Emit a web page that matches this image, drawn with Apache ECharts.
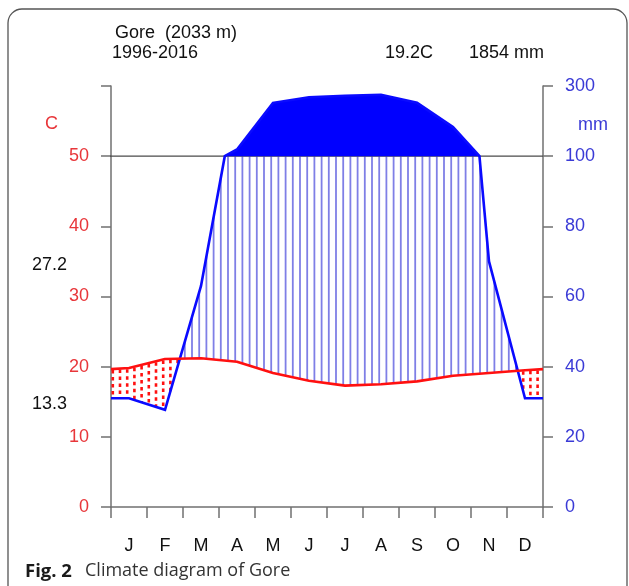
<!DOCTYPE html>
<html><head><meta charset="utf-8">
<script src="https://cdn.jsdelivr.net/npm/echarts@6/dist/echarts.min.js"></script>
<style>html,body{margin:0;padding:0;background:#fff}#c{width:629px;height:586px}</style>
</head><body><div id="c"></div>
<script>
// ---- data ----
const months = ['J','F','M','A','M','J','J','A','S','O','N','D'];
const temperature = [19.8, 21.1, 21.2, 20.7, 19.1, 18.0, 17.3, 17.5, 17.9, 18.7, 19.1, 19.5];
const precipitation = [31, 27.7, 63, 119, 252, 268, 272, 275, 252, 183, 70, 31];
const rightTickLabels = {0:'0',10:'20',20:'40',30:'60',40:'80',50:'100',60:'300'};
const station = 'Gore  (2033 m)';
const period = '1996-2016';
const meanTemp = '19.2C';
const annualPrecip = '1854 mm';
const absMax = '27.2';
const absMin = '13.3';
const caption = 'Climate diagram of Gore';
const captionLabel = 'Fig. 2';

// ---- helpers ----
const FONT = "'Liberation Sans', Arial, sans-serif";
const RED = '#e8363a', BLUE = '#3a3ad6';
function scaleP(p){ return p <= 100 ? p / 2 : 50 + (p - 100) / 20; }
const xs = [0].concat(months.map((m, i) => i + 0.5)).concat([12]);
const tEdge = (temperature[0] + temperature[11]) / 2;
const pEdge = (precipitation[0] + precipitation[11]) / 2;
const tPts = [tEdge].concat(temperature, [tEdge]);
const pPts = [pEdge].concat(precipitation, [pEdge]);
function interp(arr, x){
  for (let i = 0; i < xs.length - 1; i++) {
    if (x >= xs[i] && x <= xs[i + 1]) {
      const f = (x - xs[i]) / (xs[i + 1] - xs[i]);
      return arr[i] + f * (arr[i + 1] - arr[i]);
    }
  }
  return arr[arr.length - 1];
}

function renderClimate(params, api){
  if (params.dataIndex !== 0) return null;
  const children = [];
  // hatching (humid) and dots (arid)
  for (let k = 0; k < 60; k++) {
    const x = 0.05 + 0.2 * k;
    const t = interp(tPts, x), p = interp(pPts, x);
    if (p / 2 > t) {
      const a = api.coord([x, t]), b = api.coord([x, Math.min(scaleP(p), 50)]);
      children.push({type:'line', shape:{x1:a[0], y1:a[1], x2:b[0], y2:b[1]},
        style:{stroke:'#7f7fe6', lineWidth:1.8}});
    } else if (t > p / 2) {
      const a = api.coord([x, t]), b = api.coord([x, p / 2]);
      children.push({type:'line', shape:{x1:a[0], y1:a[1] + 1, x2:b[0], y2:b[1]},
        style:{stroke:'#ff1010', lineWidth:2.6, lineDash:[3.5, 3.5]}});
    }
  }
  // 50 C / 100 mm line
  const l0 = api.coord([0, 50]), l1 = api.coord([12, 50]);
  children.push({type:'line', shape:{x1:l0[0]-1, y1:l0[1], x2:l1[0], y2:l1[1]},
    style:{stroke:'#4a4a4a', lineWidth:1.3}});
  // precipitation polyline with the scale break at 100 mm
  const line = [];
  for (let i = 0; i < xs.length; i++) {
    line.push([xs[i], pPts[i]]);
    if (i < xs.length - 1) {
      const a = pPts[i], b = pPts[i + 1];
      if ((a - 100) * (b - 100) < 0) {
        const f = (100 - a) / (b - a);
        line.push([xs[i] + f * (xs[i + 1] - xs[i]), 100]);
      }
    }
  }
  const fill = line.map(([x, p]) => api.coord([x, Math.max(scaleP(p), 50)]));
  fill.push(api.coord([12, 50]), api.coord([0, 50]));
  children.push({type:'polygon', shape:{points:fill}, style:{fill:'#0000ff', stroke:null}});
  children.push({type:'polyline', shape:{points:line.map(([x, p]) => api.coord([x, scaleP(p)]))},
    style:{stroke:'#0a0aff', lineWidth:2.6, fill:null}, z2:5});
  return {type:'group', children};
}

const chart = echarts.init(document.getElementById('c'), null, {renderer:'canvas'});
chart.setOption({
  animation:false,
  backgroundColor:'#fff',
  grid:{left:111, right:86, top:86, bottom:79, containLabel:false},
  xAxis:[
    {type:'category', data:months, boundaryGap:true, position:'bottom',
     axisLine:{lineStyle:{color:'#707070', width:1.5}},
     axisTick:{show:true, length:11, alignWithLabel:false, lineStyle:{color:'#707070', width:1.5}},
     axisLabel:{color:'#111', fontSize:18, fontFamily:FONT, margin:30, interval:0},
     splitLine:{show:false}},
    {type:'value', min:0, max:12, show:false}
  ],
  yAxis:[
    {type:'value', min:0, max:60, interval:10, position:'left',
     axisLine:{show:true, lineStyle:{color:'#707070', width:1.5}},
     axisTick:{show:true, length:10, lineStyle:{color:'#707070', width:1.5}},
     axisLabel:{color:RED, fontSize:18, fontFamily:FONT, margin:22,
       formatter:v => v <= 50 ? String(v) : ''},
     splitLine:{show:false}},
    {type:'value', min:0, max:60, interval:10, position:'right',
     axisLine:{show:true, lineStyle:{color:'#707070', width:1.5}},
     axisTick:{show:true, length:10, lineStyle:{color:'#707070', width:1.5}},
     axisLabel:{color:BLUE, fontSize:18, fontFamily:FONT, margin:22,
       formatter:v => rightTickLabels[v] !== undefined ? rightTickLabels[v] : ''},
     splitLine:{show:false}}
  ],
  series:[
    {type:'custom', xAxisIndex:1, yAxisIndex:0, renderItem:renderClimate,
     data:precipitation.map((p, i) => [i + 0.5, scaleP(p)]), clip:false, z:2, silent:true},
    {type:'line', xAxisIndex:1, yAxisIndex:0, data:xs.map((x, i) => [x, tPts[i]]),
     symbol:'none', lineStyle:{color:'#ff1010', width:2.6}, z:3, silent:true}
  ],
  graphic:[
    {type:'rect', shape:{x:8, y:9, width:619, height:640, r:14},
     style:{fill:null, stroke:'#555', lineWidth:1.3}, silent:true},
    {type:'text', left:115, top:24, style:{text:station, font:'18px '+FONT, fill:'#111'}},
    {type:'text', left:112, top:44, style:{text:period, font:'18px '+FONT, fill:'#111'}},
    {type:'text', left:385, top:44, style:{text:meanTemp, font:'18px '+FONT, fill:'#111'}},
    {type:'text', left:469, top:44, style:{text:annualPrecip, font:'18px '+FONT, fill:'#111'}},
    {type:'text', left:45, top:115, style:{text:'C', font:'18px '+FONT, fill:RED}},
    {type:'text', left:578, top:116, style:{text:'mm', font:'18px '+FONT, fill:BLUE}},
    {type:'text', left:32, top:256, style:{text:absMax, font:'18px '+FONT, fill:'#111'}},
    {type:'text', left:32, top:395, style:{text:absMin, font:'18px '+FONT, fill:'#111'}},
    {type:'text', left:25, top:562, style:{text:captionLabel, font:"bold 18.5px 'Open Sans', sans-serif", fill:'#1a1a1a'}},
    {type:'text', left:85, top:562, style:{text:caption, font:"18px 'Open Sans', sans-serif", fill:'#333'}}
  ]
});
</script></body></html>
